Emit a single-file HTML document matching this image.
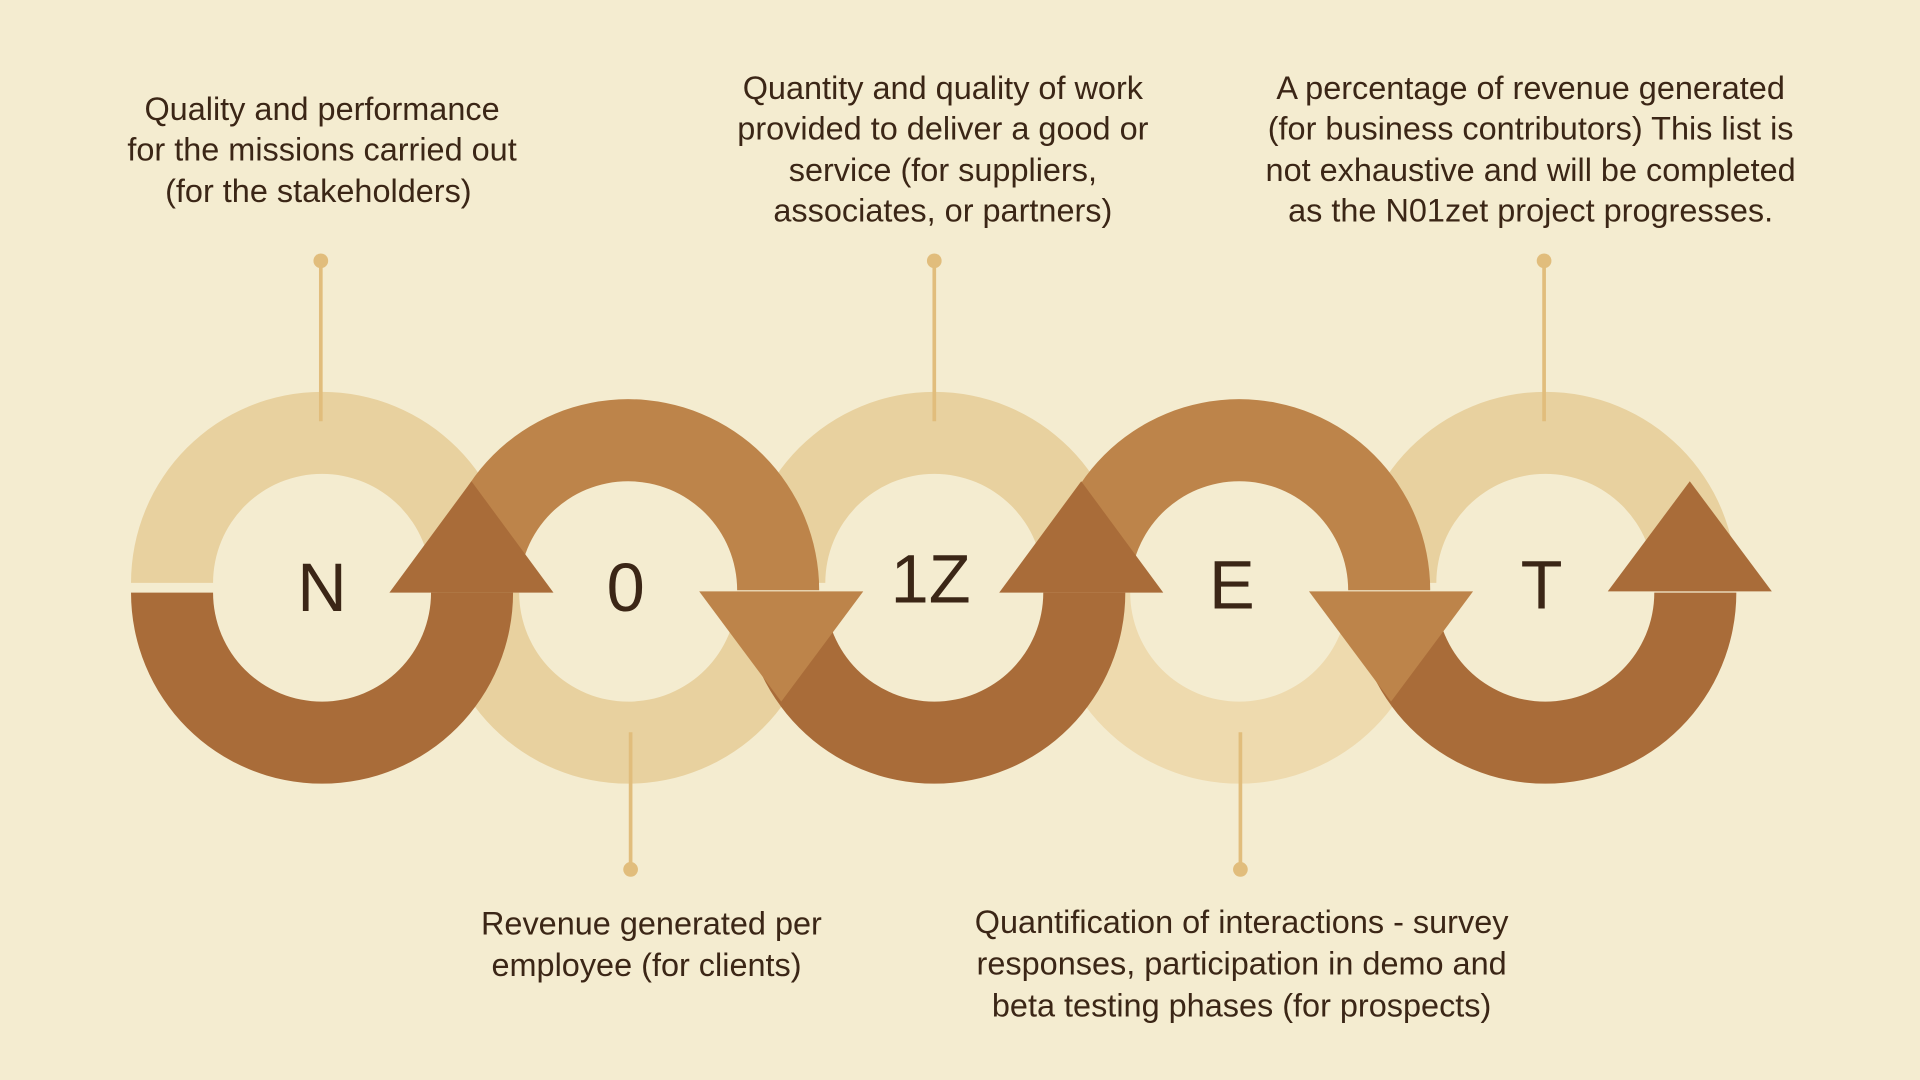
<!DOCTYPE html>
<html><head><meta charset="utf-8"><style>
html,body{margin:0;padding:0;background:#f4ecd0;}
svg{display:block;}
text{font-family:"Liberation Sans",sans-serif;}
</style></head><body>
<svg width="1920" height="1080" viewBox="0 0 1568 882" xmlns="http://www.w3.org/2000/svg">
<rect width="1568" height="882" fill="#f4ecd0"/>
<defs>
<path id="top" d="M-156,0 A156,156 0 0 1 156,0 L89,0 A89,89 0 0 0 -89,0 Z"/>
<path id="bot" d="M-156,0 A156,156 0 0 0 156,0 L89,0 A89,89 0 0 1 -89,0 Z"/>
</defs>
<use href="#top" transform="translate(263,476)" fill="#e8d19f"/>
<use href="#bot" transform="translate(513,484)" fill="#e8d19f"/>
<use href="#top" transform="translate(763,476)" fill="#e8d19f"/>
<use href="#bot" transform="translate(1012,484)" fill="#eedaae"/>
<use href="#top" transform="translate(1262,476)" fill="#e8d19f"/>
<use href="#top" transform="translate(513,482)" fill="#bd844a"/>
<use href="#top" transform="translate(1012,482)" fill="#bd844a"/>
<use href="#bot" transform="translate(263,484)" fill="#a96c39"/>
<use href="#bot" transform="translate(763,484)" fill="#a96c39"/>
<use href="#bot" transform="translate(1262,484)" fill="#a96c39"/>
<polygon points="318,484 452,484 385,393" fill="#a96c39"/>
<polygon points="571,483 705,483 638,573" fill="#bd844a"/>
<polygon points="816,484 950,484 883,393" fill="#a96c39"/>
<polygon points="1069,483 1203,483 1136,573" fill="#bd844a"/>
<polygon points="1313,483 1447,483 1380,393" fill="#a96c39"/>
<g fill="#3b2616" font-size="56" text-anchor="middle">
<text x="263" y="499">N</text>
<text x="511" y="499">0</text>
<text x="760" y="492">1Z</text>
<text x="1006" y="497">E</text>
<text x="1259" y="497">T</text>
</g>
<g stroke="#e1bd7c" stroke-width="3" fill="#e1bd7c">
<line x1="262" y1="213" x2="262" y2="344"/><circle cx="262" cy="213" r="6" stroke="none"/>
<line x1="763" y1="213" x2="763" y2="344"/><circle cx="763" cy="213" r="6" stroke="none"/>
<line x1="1261" y1="213" x2="1261" y2="344"/><circle cx="1261" cy="213" r="6" stroke="none"/>
<line x1="515" y1="598" x2="515" y2="710"/><circle cx="515" cy="710" r="6" stroke="none"/>
<line x1="1013" y1="598" x2="1013" y2="710"/><circle cx="1013" cy="710" r="6" stroke="none"/>
</g>
<g fill="#3b2616" font-size="26.5" text-anchor="middle">
<text x="263" y="98">Quality and performance</text>
<text x="263" y="131">for the missions carried out</text>
<text x="260" y="165">(for the stakeholders)</text>
<text x="770" y="81">Quantity and quality of work</text>
<text x="770" y="114">provided to deliver a good or</text>
<text x="770" y="148">service (for suppliers,</text>
<text x="770" y="181">associates, or partners)</text>
<text x="1250" y="81">A percentage of revenue generated</text>
<text x="1250" y="114">(for business contributors) This list is</text>
<text x="1250" y="148">not exhaustive and will be completed</text>
<text x="1250" y="181">as the N01zet project progresses.</text>
<text x="532" y="763">Revenue generated per</text>
<text x="528" y="797">employee (for clients)</text>
<text x="1014" y="762">Quantification of interactions - survey</text>
<text x="1014" y="796">responses, participation in demo and</text>
<text x="1014" y="830">beta testing phases (for prospects)</text>
</g>
</svg>
</body></html>
